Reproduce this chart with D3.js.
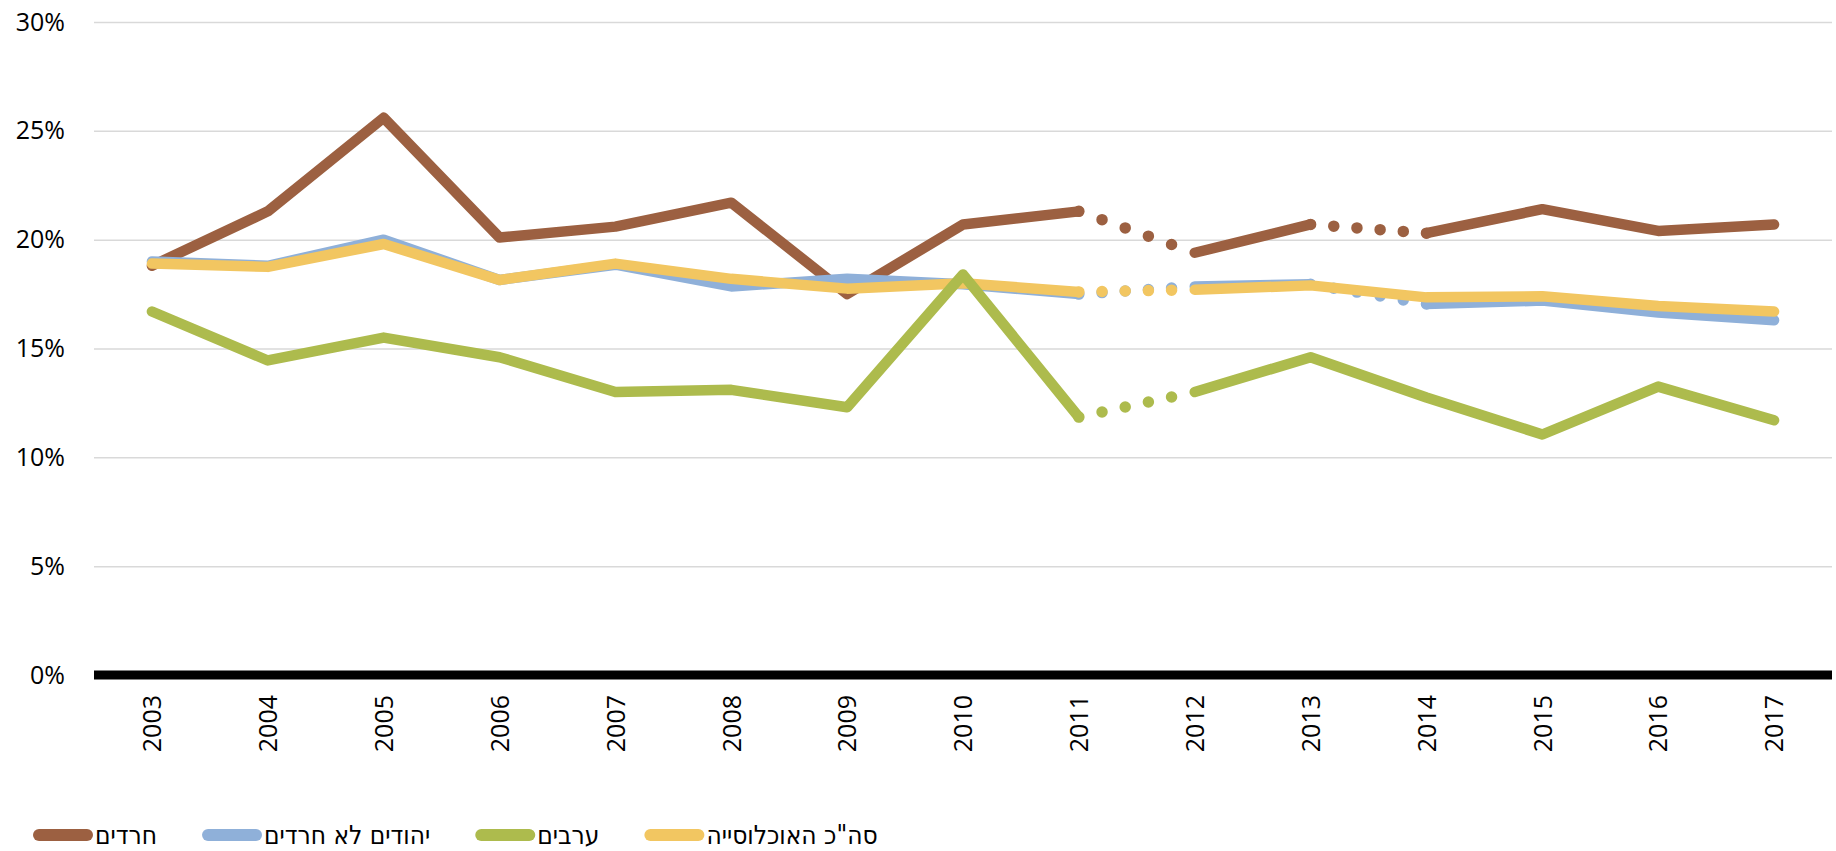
<!DOCTYPE html>
<html lang="he">
<head>
<meta charset="utf-8">
<script src="https://cdn.jsdelivr.net/npm/d3@7"></script>
<style>
  html, body { margin: 0; padding: 0; background: #fff; }
  svg { display: block; }
  .tick text { font-family: "Open Sans", sans-serif; font-size: 25px; fill: #000; }
  .legend text { font-family: "Liberation Sans Narrow", "DejaVu Sans Condensed", sans-serif; font-size: 26px; fill: #000; }
</style>
</head>
<body>
<div id="chart"></div>
<script>
// Years on the x axis
const years = [2003, 2004, 2005, 2006, 2007, 2008, 2009, 2010, 2011, 2012, 2013, 2014, 2015, 2016, 2017];

// Series values (percent)
const haredim = [18.8, 21.3, 25.6, 20.1, 20.6, 21.7, 17.5, 20.7, 21.3, 19.4, 20.7, 20.3, 21.4, 20.4, 20.7];
const nonHaredi = [19.0, 18.8, 20.0, 18.15, 18.85, 17.85, 18.2, 17.95, 17.5, 17.85, 17.95, 17.05, 17.2, 16.65, 16.3];
const arabs = [16.7, 14.45, 15.5, 14.6, 13.0, 13.1, 12.3, 18.4, 11.85, 13.0, 14.6, 12.75, 11.05, 13.25, 11.7];
const total = [18.9, 18.75, 19.8, 18.15, 18.9, 18.2, 17.75, 18.0, 17.6, 17.7, 17.9, 17.35, 17.4, 16.95, 16.7];

// Series names (legend order)
const names = ["חרדים", "יהודים לא חרדים", "ערבים", "סה\"כ האוכלוסייה"];

// Segments (by starting year) drawn as dotted lines
const haredimDotted = [2011, 2013];
const nonHarediDotted = [2011, 2013];
const arabsDotted = [2011];
const totalDotted = [2011];

// Y axis ticks
const yTicks = [0, 5, 10, 15, 20, 25, 30];

const colors = ["#9c6041", "#8fb0d9", "#adbb4d", "#f2c661"];

const series = [
  { name: names[0], values: haredim, dotted: haredimDotted, color: colors[0] },
  { name: names[1], values: nonHaredi, dotted: nonHarediDotted, color: colors[1] },
  { name: names[2], values: arabs, dotted: arabsDotted, color: colors[2] },
  { name: names[3], values: total, dotted: totalDotted, color: colors[3] },
];

// Drawing order: brown, blue, yellow, green on top
const drawOrder = [0, 1, 3, 2];

const W = 1836, H = 851;
const plotLeft = 94, plotRight = 1832, plotTop = 22, plotBottom = 675;
const lineWidth = 10.5;

const svg = d3.select("#chart").append("svg").attr("width", W).attr("height", H);

const x = d3.scalePoint().domain(years).range([plotLeft, plotRight]).padding(0.5);
const y = d3.scaleLinear().domain([0, 30]).range([plotBottom, plotTop]);

// Gridlines + y labels
const yAxis = svg.append("g")
  .attr("transform", `translate(${plotLeft},0)`)
  .call(d3.axisLeft(y).tickValues(yTicks).tickSize(-(plotRight - plotLeft)).tickPadding(29).tickFormat((d) => d + "%"));
yAxis.select(".domain").remove();
yAxis.selectAll(".tick line").attr("stroke", "#d9d9d9").attr("stroke-width", 1.5);

// Baseline
svg.append("line")
  .attr("x1", plotLeft).attr("x2", plotRight)
  .attr("y1", y(0)).attr("y2", y(0))
  .attr("stroke", "#000").attr("stroke-width", 9);

// X labels (rotated)
const xAxis = svg.append("g")
  .attr("transform", `translate(0,${y(0)})`)
  .call(d3.axisBottom(x).tickSize(0).tickPadding(0));
xAxis.select(".domain").remove();
xAxis.selectAll(".tick text")
  .attr("transform", "rotate(-90)")
  .attr("text-anchor", "end")
  .attr("x", -20)
  .attr("y", 0)
  .attr("dy", "0.35em");

const line = d3.line().x((d) => x(d.year)).y((d) => y(d.value));

// Lines
drawOrder.forEach((i) => {
  const s = series[i];
  const pts = years.map((yr, k) => ({ year: yr, value: s.values[k] }));
  const g = svg.append("g");

  // Split into solid runs
  const runs = [];
  let run = [pts[0]];
  for (let k = 1; k < pts.length; k++) {
    if (s.dotted.includes(pts[k - 1].year)) {
      runs.push(run);
      run = [pts[k]];
    } else {
      run.push(pts[k]);
    }
  }
  runs.push(run);

  runs.forEach((r) => {
    g.append("path")
      .datum(r)
      .attr("fill", "none")
      .attr("stroke", s.color)
      .attr("stroke-width", lineWidth)
      .attr("stroke-linecap", "round")
      .attr("stroke-linejoin", "round")
      .attr("d", line);
  });

  // Dotted segments
  s.dotted.forEach((yr) => {
    const k = years.indexOf(yr);
    const p = g.append("path")
      .datum([pts[k], pts[k + 1]])
      .attr("fill", "none")
      .attr("stroke", s.color)
      .attr("stroke-width", lineWidth + 1)
      .attr("stroke-linecap", "round")
      .attr("d", line);
    const len = p.node().getTotalLength();
    p.attr("stroke-dasharray", `0 ${len / 5}`);
  });
});

// Legend
const legend = svg.append("g").attr("class", "legend");
let lx = 33;
const ly = 835;
series.forEach((s) => {
  legend.append("line")
    .attr("x1", lx + 6).attr("x2", lx + 54)
    .attr("y1", ly).attr("y2", ly)
    .attr("stroke", s.color)
    .attr("stroke-width", 12)
    .attr("stroke-linecap", "round");
  const t = legend.append("text")
    .attr("x", lx + 62)
    .attr("y", ly)
    .attr("dy", "0.35em")
    .text(s.name);
  lx += 62 + t.node().getComputedTextLength() + 45;
});
</script>
</body>
</html>
